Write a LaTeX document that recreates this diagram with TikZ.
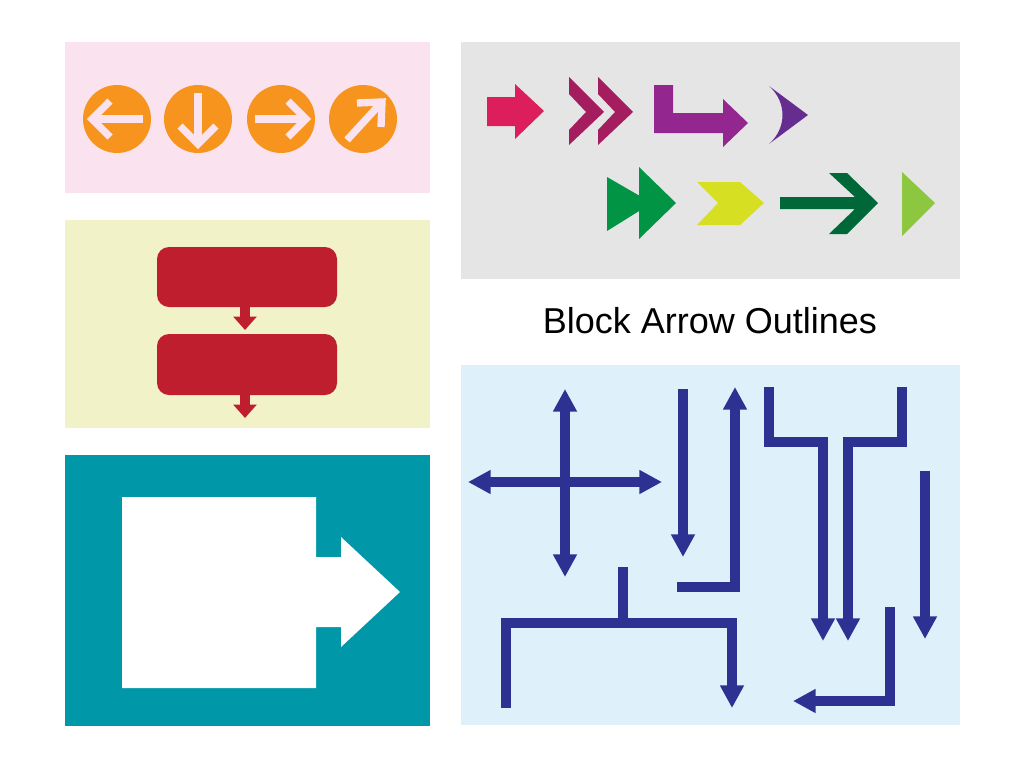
\documentclass[tikz,border=0pt]{standalone}
\usepackage{fontspec}
\setmainfont{Liberation Sans}
\usetikzlibrary{arrows.meta}
\definecolor{pinkbg}{HTML}{FAE3EE}
\definecolor{yelbg}{HTML}{F2F2C9}
\definecolor{tealbg}{HTML}{0097A9}
\definecolor{graybg}{HTML}{E5E5E5}
\definecolor{bluebg}{HTML}{DEF1FA}
\definecolor{orng}{HTML}{F7941D}
\definecolor{redbox}{HTML}{BE1E2D}
\definecolor{navy}{HTML}{2E3192}
\definecolor{cA}{HTML}{DC1F5C}
\definecolor{cB}{HTML}{A41D5E}
\definecolor{cC}{HTML}{93278F}
\definecolor{cD}{HTML}{662D91}
\definecolor{cE}{HTML}{009444}
\definecolor{cF}{HTML}{D7DF23}
\definecolor{cG}{HTML}{006838}
\definecolor{cH}{HTML}{8DC63F}
\tikzset{
  wline/.style={draw=pinkbg,line width=5.5pt,line cap=butt,line join=miter},
  navyarr/.style={draw=navy,line width=7pt,line join=miter,-{Triangle[width=17pt,length=17pt]}},
  navyarr2/.style={draw=navy,line width=7pt,line join=miter,{Triangle[width=17pt,length=17pt]}-{Triangle[width=17pt,length=17pt]}},
  navyline/.style={draw=navy,line width=7pt,line join=miter},
  redarr/.style={draw=redbox,line width=7pt,-{Triangle[width=17pt,length=10pt]}}
}
\begin{document}
\begin{tikzpicture}[x=0.75pt,y=-0.75pt]
\useasboundingbox (0,0) rectangle (1024,768);
\fill[white] (0,0) rectangle (1024,768);
% panels
\fill[pinkbg] (65,42) rectangle (430,193);
\fill[yelbg] (65,220) rectangle (430,428);
\fill[tealbg] (65,455) rectangle (430,726);
\fill[graybg] (461,42) rectangle (960,279);
\fill[bluebg] (461,365) rectangle (960,725);
\node[font=\fontsize{27}{30}\selectfont] (title) at (710,321) {Block Arrow Outlines};
% circles
\foreach \cx in {117,198,281,363}{\fill[orng] (\cx,119) circle[radius=34];}
\draw[wline] (143,119) -- (93,119);
\draw[wline] (110,101) -- (92,119) -- (110,137);
\draw[wline] (198,93) -- (198,143);
\draw[wline] (180,126) -- (198,144) -- (216,126);
\draw[wline] (255,119) -- (305,119);
\draw[wline] (288,101) -- (306,119) -- (288,137);
\draw[wline] (347,140) -- (381,103);
\draw[wline] (357,103) -- (382,102) -- (381,127);
% red boxes
\fill[redbox,rounded corners=9] (157,247) rectangle (337,307);
\fill[redbox,rounded corners=9] (157,334) rectangle (337,395);
\draw[redarr] (245,305) -- (245,330);
\draw[redarr] (245,393) -- (245,418);
% white block arrow
\fill[white] (122,497) -- (316,497) -- (316,557) -- (341,557) -- (341,537) -- (400,592) -- (341,647) -- (341,627) -- (316,627) -- (316,688) -- (122,688) -- cycle;
% top right arrows
\fill[cA] (487,97) -- (515,97) -- (515,84) -- (544,111) -- (515,139) -- (515,126) -- (487,126) -- cycle;
\foreach \dx in {0,29}{\fill[cB] (569+\dx,77) -- (604+\dx,112) -- (569+\dx,145) -- (569+\dx,130) -- (586+\dx,112) -- (569+\dx,94) -- cycle;}
\fill[cC] (654,85) -- (673,85) -- (673,113) -- (723,113) -- (723,99) -- (748,123) -- (723,147) -- (723,133) -- (654,133) -- cycle;
\fill[cD] (769,86) -- (808,115) -- (769,144) .. controls (787,128) and (787,102) .. (769,86) -- cycle;
\fill[cE] (607,177) -- (652,203) -- (607,231) -- cycle;
\fill[cE] (639,167) -- (676,203) -- (639,239) -- cycle;
\fill[cF] (697,182) -- (740,182) -- (764,203) -- (740,225) -- (697,225) -- (718,203) -- cycle;
\fill[cG] (780,197) -- (855,197) -- (829,173) -- (847,173) -- (878,203) -- (847,234) -- (829,234) -- (855,209) -- (780,209) -- cycle;
\fill[cH] (902,172) -- (935,203) -- (902,236) -- cycle;
% blue outline arrows
\draw[navyarr2] (565,389) -- (565,577);
\draw[navyarr2] (468,482) -- (662,482);
\draw[navyarr] (683,389) -- (683,557);
\draw[navyarr] (677,587) -- (735,587) -- (735,387);
\draw[navyarr] (769,387) -- (769,442) -- (823,442) -- (823,641);
\draw[navyarr] (902,387) -- (902,442) -- (848,442) -- (848,641);
\draw[navyarr] (925,471) -- (925,639);
\draw[navyarr] (890,607) -- (890,701) -- (793,701);
\draw[navyline] (623,567) -- (623,623);
\draw[navyarr] (506,708) -- (506,623) -- (732,623) -- (732,708);
\end{tikzpicture}
\end{document}
